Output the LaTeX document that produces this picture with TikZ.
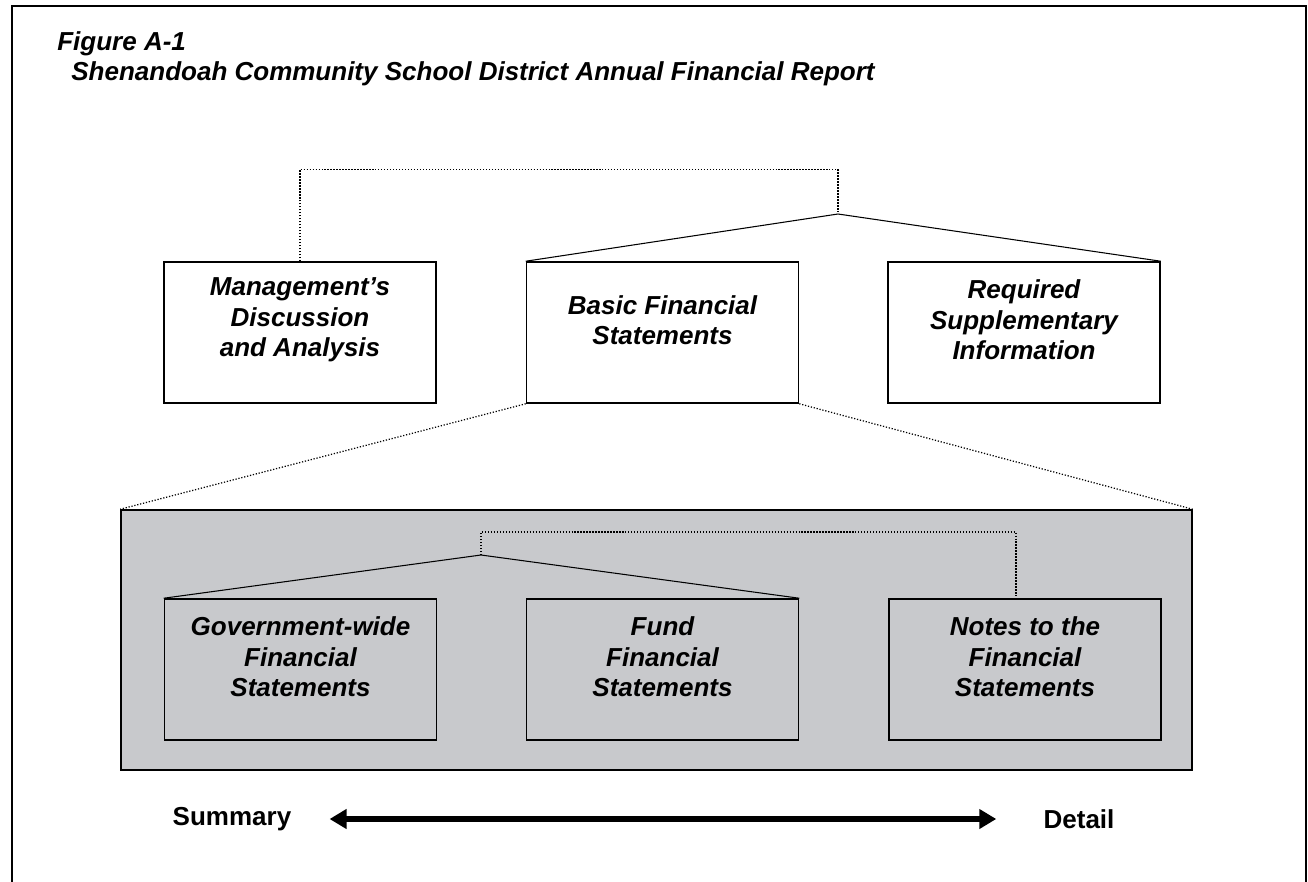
\documentclass[tikz,border=0pt]{standalone}
\usepackage{fontspec}
\setmainfont{Liberation Sans}
\usetikzlibrary{arrows.meta}
\definecolor{panelgray}{RGB}{200, 201, 204}

\begin{document}
\begin{tikzpicture}[x = 0.02cm, y = -0.02cm,
	box/.style = {draw, line width = 0.9pt, minimum width = 5.44cm, minimum height = 2.82cm, inner sep = 0pt},
	boxtext/.style = {align = center, inner sep = 0pt, font = \fontsize{14.8}{17.3}\selectfont\bfseries\itshape},
	labeltext/.style = {inner sep = 0pt, font = \fontsize{14.8}{17.3}\selectfont\bfseries},
	link/.style = {line width = 0.6pt},
	dotlink/.style = {line width = 0.7pt, densely dotted},
	bigarrow/.style = {line width = 0.12cm, {Triangle[length = 0.34cm, width = 0.38cm]}-{Triangle[length = 0.34cm, width = 0.38cm]}, shorten < = 0.76cm, shorten > = 0.94cm}]
			\useasboundingbox (0,0) rectangle (1308,882);
			\draw[line width = 0.9pt] (12,882) -- (12,6) -- (1306,6) -- (1306,882);
			\node (title) at (57,31) [anchor = north west, align = left, inner sep = 0pt, font = \fontsize{14.8}{17.3}\selectfont\bfseries\itshape] {Figure A-1\\\hspace*{0.28cm}Shenandoah Community School District Annual Financial Report};
			\node (mda) at (300,332.5) [box] {};
			\node (bfs) at (662.5,332.5) [box] {};
			\node (rsi) at (1024,332.5) [box] {};
			\node (mdatext) at (300,320) [boxtext] {Management's\\Discussion\\and Analysis};
			\node (bfstext) at (662.5,320) [boxtext] {Basic Financial\\Statements};
			\node (rsitext) at (1024,320) [boxtext] {Required\\Supplementary\\Information};
			\node (panel) at (656.5,640) [draw, fill = panelgray, line width = 0.9pt, minimum width = 21.42cm, minimum height = 5.2cm, inner sep = 0pt] {};
			\node (gov) at (300.5,669.5) [box] {};
			\node (fund) at (662.5,669.5) [box] {};
			\node (notes) at (1025,669.5) [box] {};
			\node (govtext) at (300.5,657) [boxtext] {Government-wide\\Financial\\Statements};
			\node (fundtext) at (662.5,657) [boxtext] {Fund\\Financial\\Statements};
			\node (notestext) at (1025,657) [boxtext] {Notes to the\\Financial\\Statements};
			\coordinate (topjoin) at (838,214);
			\coordinate (midjoin) at (481,555);
			\draw[dotlink] (mda.north) -- ++(0,-92) -| (topjoin);
			\draw[link] (bfs.north west) -- (topjoin) -- (rsi.north east);
			\draw[dotlink] (bfs.south west) -- (panel.north west);
			\draw[dotlink] (bfs.south east) -- (panel.north east);
			\draw[link] (gov.north west) -- (midjoin) -- (fund.north east);
			\draw[dotlink] (midjoin) -- ++(0,-23) -| ([xshift = -0.18cm]notes.north);
			\node (summary) at (232,819) [labeltext] {Summary};
			\node (detail) at (1079,819) [labeltext] {Detail};
			\draw[bigarrow] (summary) -- (detail);
\end{tikzpicture}
\end{document}
